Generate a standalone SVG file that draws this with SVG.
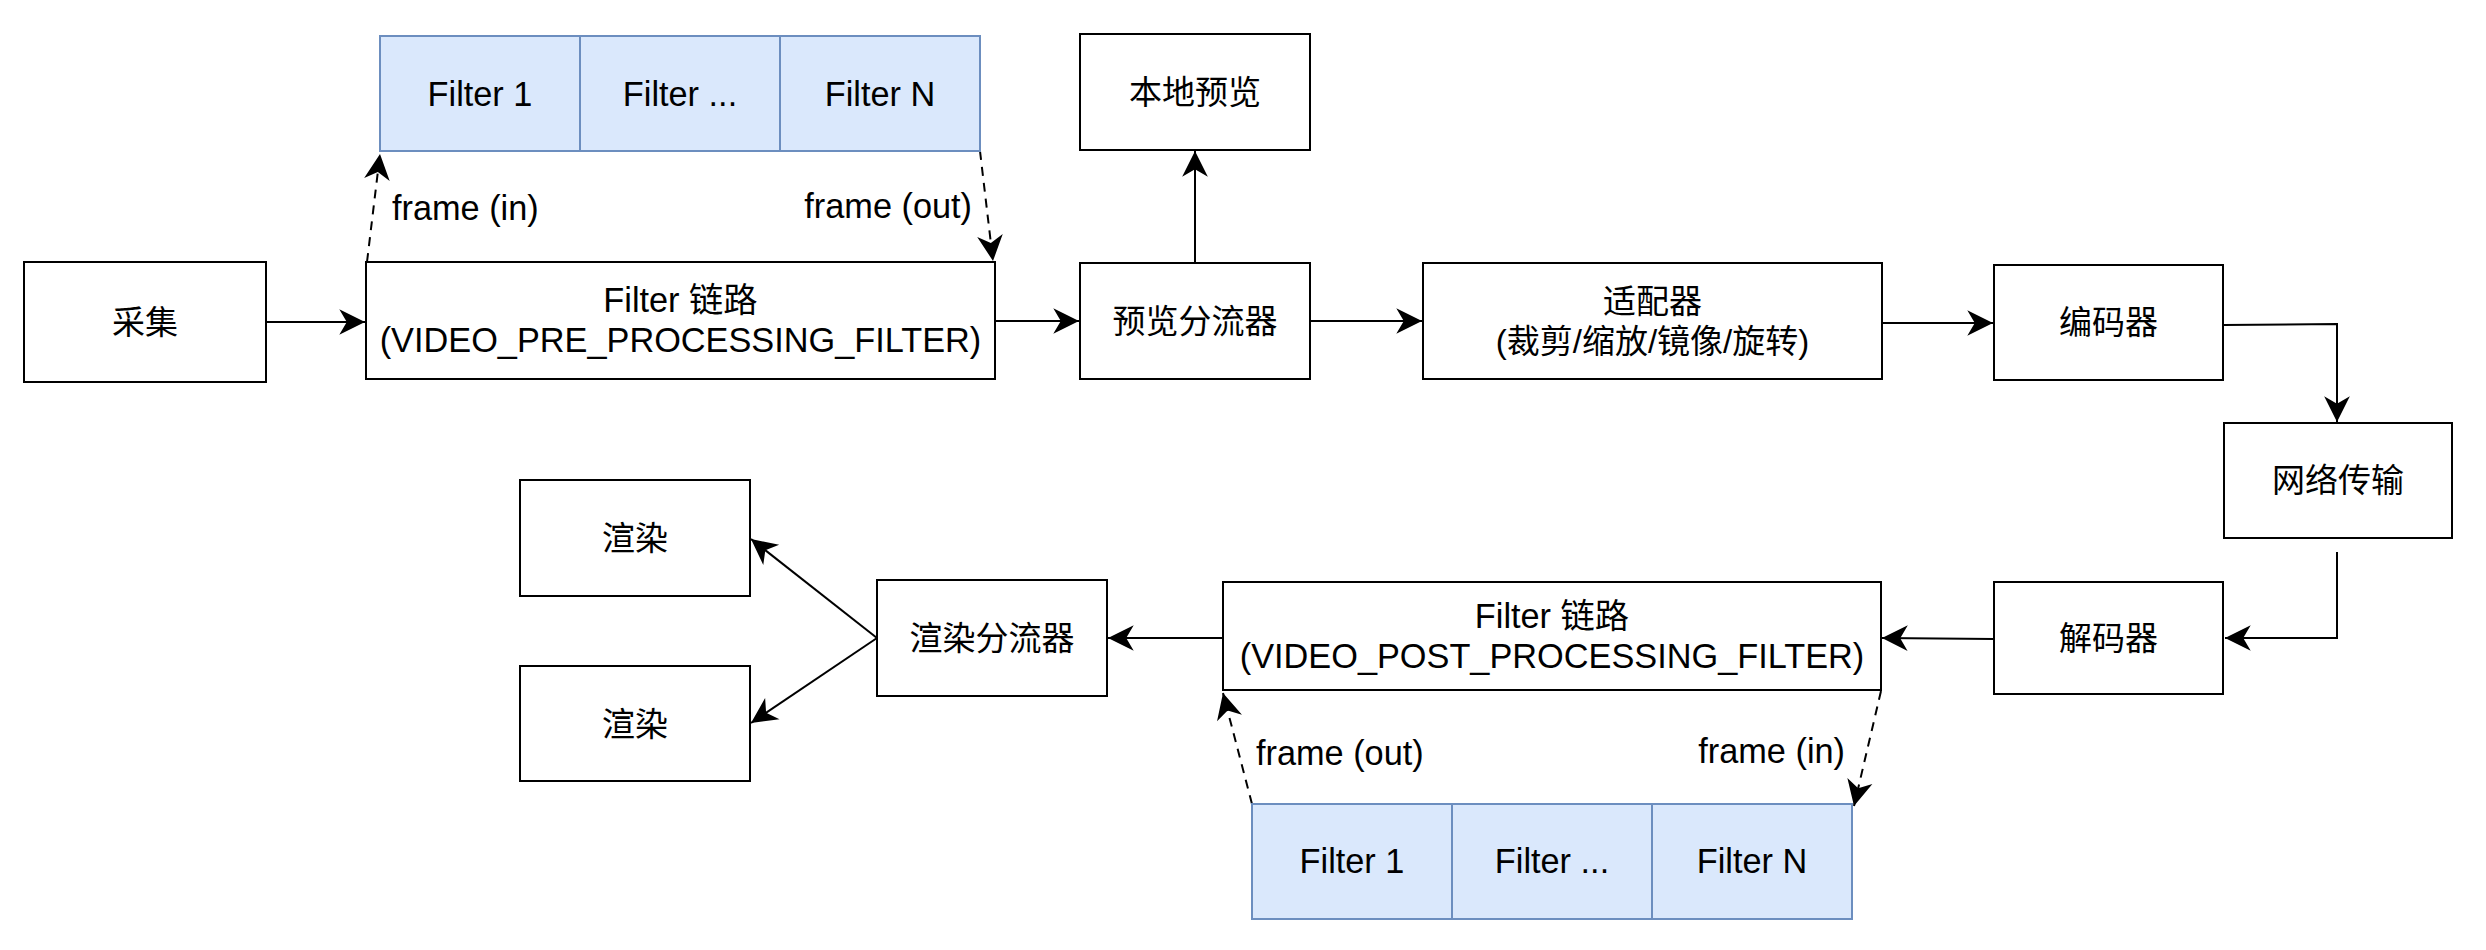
<svg xmlns="http://www.w3.org/2000/svg" width="2486" height="950" viewBox="0 0 2486 950">
<style>
.box{fill:#ffffff;stroke:#000000;stroke-width:2}
.flt{fill:#dae8fc;stroke:#6c8ebf;stroke-width:2}
text{font-family:"Liberation Sans","Noto Sans CJK SC",sans-serif;font-size:33px;fill:#000000}
.l{font-size:34.3px}
.c{text-anchor:middle}
.e{text-anchor:end}
.ln{fill:none;stroke:#000000;stroke-width:2}
.dash{fill:none;stroke:#000000;stroke-width:2;stroke-dasharray:9 7}
</style>
<defs>
<marker id="arr" markerUnits="userSpaceOnUse" markerWidth="30" markerHeight="30" viewBox="-26 -14 28 28" refX="0" refY="0" orient="auto" overflow="visible">
<path d="M0,0 L-24,-12 L-17,0 L-24,12 Z" fill="#000000"/>
</marker>
</defs>
<rect width="2486" height="950" fill="#ffffff"/>
<g id="connectors">
<line class="ln" x1="266" y1="322" x2="365" y2="322" marker-end="url(#arr)"/>
<line class="ln" x1="995" y1="321" x2="1079" y2="321" marker-end="url(#arr)"/>
<line class="ln" x1="1195" y1="263" x2="1195" y2="151" marker-end="url(#arr)"/>
<line class="ln" x1="1310" y1="321" x2="1422" y2="321" marker-end="url(#arr)"/>
<line class="ln" x1="1882" y1="323" x2="1993" y2="323" marker-end="url(#arr)"/>
<polyline class="ln" points="2223,325 2337,324 2337,422" marker-end="url(#arr)"/>
<polyline class="ln" points="2337,552 2337,638 2225,638" marker-end="url(#arr)"/>
<line class="ln" x1="1994" y1="639" x2="1882" y2="638" marker-end="url(#arr)"/>
<line class="ln" x1="1223" y1="638" x2="1108" y2="638" marker-end="url(#arr)"/>
<line class="ln" x1="877" y1="638" x2="751" y2="539" marker-end="url(#arr)"/>
<line class="ln" x1="877" y1="638" x2="751" y2="723" marker-end="url(#arr)"/>
<line class="dash" x1="367" y1="262" x2="380" y2="154" marker-end="url(#arr)"/>
<line class="dash" x1="980" y1="151" x2="993" y2="261" marker-end="url(#arr)"/>
<line class="dash" x1="1252" y1="804" x2="1223" y2="693" marker-end="url(#arr)"/>
<line class="dash" x1="1881" y1="691" x2="1854" y2="806" marker-end="url(#arr)"/>
</g>
<g id="labels">
<text class="l" x="392" y="220">frame (in)</text>
<text class="l e" x="972" y="218">frame (out)</text>
<text class="l" x="1256" y="765">frame (out)</text>
<text class="l e" x="1845" y="763">frame (in)</text>
</g>
<g id="caiji"><rect class="box" x="24" y="262" width="242" height="120"/><text class="c" x="145" y="334">采集</text></g>
<g id="pre-chain"><rect class="box" x="366" y="262" width="629" height="117"/><text class="l c" x="680.5" y="312">Filter 链路</text><text class="l c" x="680.5" y="352">(VIDEO_PRE_PROCESSING_FILTER)</text></g>
<g id="pre-filter-1"><rect class="flt" x="380" y="36" width="200" height="115"/><text class="l c" x="480" y="106">Filter 1</text></g>
<g id="pre-filter-mid"><rect class="flt" x="580" y="36" width="200" height="115"/><text class="l c" x="680" y="106">Filter ...</text></g>
<g id="pre-filter-n"><rect class="flt" x="780" y="36" width="200" height="115"/><text class="l c" x="880" y="106">Filter N</text></g>
<g id="local-preview"><rect class="box" x="1080" y="34" width="230" height="116"/><text class="c" x="1195" y="104">本地预览</text></g>
<g id="preview-splitter"><rect class="box" x="1080" y="263" width="230" height="116"/><text class="c" x="1195" y="333">预览分流器</text></g>
<g id="adapter"><rect class="box" x="1423" y="263" width="459" height="116"/><text class="c" x="1652.5" y="313">适配器</text><text class="c" x="1652.5" y="353">(裁剪/缩放/镜像/旋转)</text></g>
<g id="encoder"><rect class="box" x="1994" y="265" width="229" height="115"/><text class="c" x="2108.5" y="334">编码器</text></g>
<g id="network"><rect class="box" x="2224" y="423" width="228" height="115"/><text class="c" x="2338" y="492">网络传输</text></g>
<g id="decoder"><rect class="box" x="1994" y="582" width="229" height="112"/><text class="c" x="2108.5" y="650">解码器</text></g>
<g id="post-chain"><rect class="box" x="1223" y="582" width="658" height="108"/><text class="l c" x="1552" y="628">Filter 链路</text><text class="l c" x="1552" y="668">(VIDEO_POST_PROCESSING_FILTER)</text></g>
<g id="render-splitter"><rect class="box" x="877" y="580" width="230" height="116"/><text class="c" x="992" y="650">渲染分流器</text></g>
<g id="render-1"><rect class="box" x="520" y="480" width="230" height="116"/><text class="c" x="635" y="550">渲染</text></g>
<g id="render-2"><rect class="box" x="520" y="666" width="230" height="115"/><text class="c" x="635" y="736">渲染</text></g>
<g id="post-filter-1"><rect class="flt" x="1252" y="804" width="200" height="115"/><text class="l c" x="1352" y="873">Filter 1</text></g>
<g id="post-filter-mid"><rect class="flt" x="1452" y="804" width="200" height="115"/><text class="l c" x="1552" y="873">Filter ...</text></g>
<g id="post-filter-n"><rect class="flt" x="1652" y="804" width="200" height="115"/><text class="l c" x="1752" y="873">Filter N</text></g>
</svg>
